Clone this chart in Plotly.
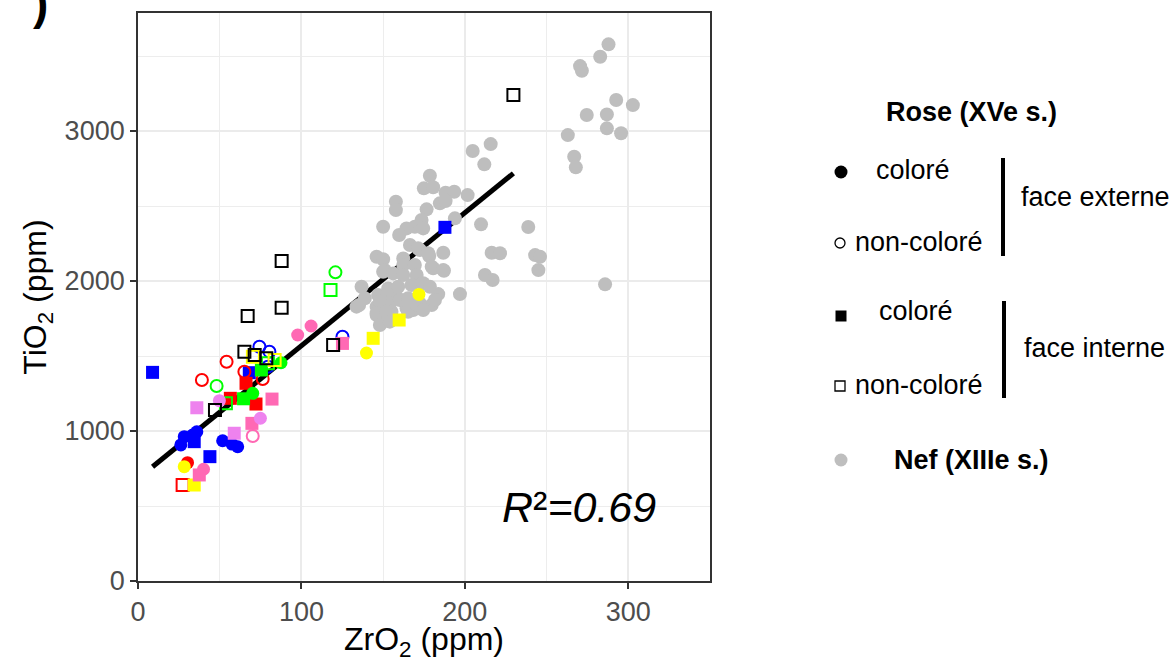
import numpy as np
import plotly.graph_objects as go

# ---- Nef (XIIIe s.) : ZrO2 / TiO2 (ppm) ----
nef_zr = [215.8, 204.8, 211.9, 178.6, 174.9, 180.6, 188.2, 193.5, 201.7, 157.8,
          157.8, 184.7, 188.2, 176.6, 150.0, 193.9, 209.9, 173.5, 169.4, 174.5,
          164.3, 159.8, 166.4, 172.5, 178.2, 186.8, 146.0, 150.0, 162.3, 216.4,
          221.5, 151.0, 180.6, 187.2, 212.3, 217.0, 136.8, 146.9, 152.1, 158.2,
          135.3, 138.8, 146.0, 146.0, 150.0, 183.7, 197.0, 179.7, 164.3, 168.4,
          172.5, 154.1, 160.2, 155.1, 171.4, 177.6, 162.3, 169.4, 179.7, 186.8,
          150.0, 156.1, 162.3, 170.5, 133.7, 153.1, 159.2, 167.4, 174.5, 178.6,
          148.0, 165.3, 181.7, 146.0, 152.1, 165.3, 170.5, 174.5, 148.0, 154.1,
          287.9, 282.8, 270.5, 271.6, 292.6, 302.8, 274.6, 286.9, 286.9, 295.6,
          263.0, 266.9, 267.9, 238.8, 243.0, 246.0, 245.0, 285.8]
nef_ti = [2913, 2867, 2778, 2702, 2618, 2625, 2589, 2595, 2573, 2529,
          2473, 2518, 2533, 2478, 2362, 2418, 2378, 2407, 2362, 2351,
          2351, 2307, 2240, 2207, 2167, 2189, 2162, 2145, 2151, 2189,
          2185, 2073, 2085, 2069, 2040, 2007, 1962, 1907, 1885, 1895,
          1840, 1885, 1829, 1773, 1729, 1913, 1913, 1840, 1818, 1807,
          1851, 1851, 1873, 1795, 2218, 2185, 2107, 2107, 2095, 2073,
          2062, 2051, 2040, 2040, 1829, 1951, 1962, 1973, 1985, 1962,
          1862, 1885, 1873, 1785, 1796, 1795, 1840, 1807, 1707, 1729,
          3578, 3495, 3433, 3402, 3207, 3173, 3107, 3111, 3018, 2985,
          2973, 2829, 2758, 2360, 2173, 2162, 2073, 1978]

# ---- Rose (XVe s.) : one entry per sample ----
rose_zr = [26.2, 28.3, 33.4, 36.0, 51.8, 57.5, 61.0, 34.4, 44.0, 8.9,
           68.1, 187.8, 74.3, 80.4, 125.1, 79.5,
           30.3, 54.2, 65.1, 76.3, 39.1, 66.1, 56.5, 72.2, 27.3,
           70.2, 87.5, 64.6, 75.5, 48.1, 120.8, 53.8, 117.8, 79.5,
           28.3, 171.9, 139.8, 34.4, 159.8, 143.9, 70.3, 83.6,
           97.7, 105.9, 40.1, 82.0, 69.7, 125.1, 37.5, 70.2,
           49.8, 74.9, 36.0, 58.9,
           67.1, 87.9, 87.9, 65.1, 47.1, 119.4, 229.7, 71.4, 78.5]
rose_ti = [907, 962, 973, 995, 935, 913, 895, 929, 829, 1391,
           1389, 2358, 1562, 1529, 1629, 1429,
           789, 1462, 1395, 1347, 1340, 1318, 1218, 1180, 640,
           1251, 1455, 1215, 1407, 1300, 2058, 1185, 1940, 1451,
           762, 1911, 1520, 640, 1740, 1618, 1495, 1473,
           1640, 1700, 745, 1213, 1051, 1584, 707, 967,
           1202, 1085, 1155, 985,
           1767, 1822, 2133, 1529, 1140, 1573, 3240, 1507, 1485]
rose_color = (["blue"] * 16 + ["red"] * 9 + ["lime"] * 9 + ["yellow"] * 8
              + ["hotpink"] * 8 + ["violet"] * 4 + ["black"] * 9)
rose_face = ["ext"] * 7 + ["int"] * 5 + ["ext"] * 4 \
    + ["ext"] * 5 + ["int"] * 4 \
    + ["ext"] * 2 + ["int"] * 2 + ["ext"] * 2 + ["int"] * 3 \
    + ["ext"] * 3 + ["int"] * 5 \
    + ["ext"] * 3 + ["int"] * 4 + ["ext"] \
    + ["ext"] * 2 + ["int"] * 2 \
    + ["int"] * 9
rose_colore = [True] * 12 + [False] * 4 \
    + [True] + [False] * 4 + [True] * 3 + [False] \
    + [True] * 4 + [False] * 5 \
    + [True] * 6 + [False] * 2 \
    + [True] * 7 + [False] \
    + [True] * 4 \
    + [False] * 9

COLOR_HEX = {"blue": "#0000FF", "red": "#FF0000", "lime": "#00FF00",
             "yellow": "#FFFF00", "hotpink": "#FF69B4", "violet": "#EE82EE",
             "black": "#000000"}
NEF_GREY = "#BEBEBE"
FONT = "Liberation Sans, Arial, Helvetica, sans-serif"

X_RANGE = [0, 350]
Y_RANGE = [0, 3787]

fig = go.Figure()

# linear fit on the Rose samples, drawn over their ZrO2 span
rz = np.array(rose_zr)
rt = np.array(rose_ti)
slope, intercept = np.polyfit(rz, rt, 1)
xf = np.array([rz.min(), rz.max()])
fig.add_trace(go.Scatter(x=xf, y=intercept + slope * xf, mode="lines",
                         line=dict(color="black", width=5), hoverinfo="skip"))

fig.add_trace(go.Scatter(x=nef_zr, y=nef_ti, mode="markers",
                         marker=dict(color=NEF_GREY, size=14, opacity=1, line=dict(width=0))))

symbols = []
for face, col in zip(rose_face, rose_colore):
    base = "circle" if face == "ext" else "square"
    symbols.append(base if col else base + "-open")
colors = [COLOR_HEX[c] for c in rose_color]
fig.add_trace(go.Scatter(
    x=rose_zr, y=rose_ti, mode="markers",
    marker=dict(symbol=symbols, color=colors, opacity=1,
                size=[13 if c else 12 for c in rose_colore],
                line=dict(color=colors, width=[0 if c else 2 for c in rose_colore]))))

fig.add_annotation(x=221.5, y=493, xref="x", yref="y", xanchor="left", yanchor="middle",
                   text="<i>R</i>²<i>=0.69</i>", showarrow=False,
                   font=dict(size=43, color="black", family=FONT))

# ---- hand-built legend on the right ----
L, R_, T, B = 138, 710, 13, 581


def px(xp, yp):
    return (xp - L) / (R_ - L), (B - yp) / (B - T)


def add_text(xp, yp, text, size=27, bold=False, anchor="left"):
    x, y = px(xp, yp)
    fig.add_annotation(x=x, y=y, xref="paper", yref="paper", xanchor=anchor,
                       yanchor="middle", showarrow=False,
                       text=f"<b>{text}</b>" if bold else text,
                       font=dict(size=size, color="black", family=FONT))


def add_marker(kind, xc, yc, d, fill, line_w=0, line_c="black"):
    x0, y0 = px(xc - d / 2, yc + d / 2)
    x1, y1 = px(xc + d / 2, yc - d / 2)
    fig.add_shape(type=kind, xref="paper", yref="paper", x0=x0, y0=y0, x1=x1, y1=y1,
                  fillcolor=fill, line=dict(color=line_c, width=line_w))


def add_bar(xc, ytop, ybot):
    x0, y0 = px(xc, ybot)
    _, y1 = px(xc, ytop)
    fig.add_shape(type="line", xref="paper", yref="paper", x0=x0, x1=x0, y0=y0, y1=y1,
                  line=dict(color="black", width=4))


add_text(971, 112, "Rose (XVe s.)", size=27, bold=True, anchor="center")
add_marker("circle", 841, 172, 13, "black")
add_text(874, 170, "coloré")
add_marker("circle", 840, 243, 10, "rgba(0,0,0,0)", 1.3)
add_text(853, 242, "non-coloré")
add_bar(1003, 158, 256)
add_text(1019, 197, "face externe")
add_marker("rect", 841, 316, 11, "black")
add_text(877, 311, "coloré")
add_marker("rect", 840, 386, 10, "rgba(0,0,0,0)", 1.3)
add_text(853, 385, "non-coloré")
add_bar(1004, 301, 398)
add_text(1022, 348, "face interne")
add_marker("circle", 841, 460, 13, NEF_GREY)
add_text(971, 460, "Nef (XIIIe s.)", size=27, bold=True, anchor="center")

# panel letter cut at the top edge
fig.add_annotation(x=px(40, 0)[0], y=px(0, 31)[1], xref="paper", yref="paper",
                   xanchor="center", yanchor="bottom", showarrow=False,
                   text="<b>)</b>", font=dict(size=46, color="black", family=FONT))

axis_common = dict(
    showline=True, mirror=True, linecolor="#333333", linewidth=1.8,
    ticks="outside", ticklen=6, tickwidth=1.6, tickcolor="#333333",
    showgrid=True, gridcolor="#EBEBEB", gridwidth=1.5, zeroline=False,
    tickfont=dict(size=27, color="#4D4D4D", family=FONT),
)
fig.update_xaxes(range=X_RANGE, tickvals=[0, 100, 200, 300],
                 minor=dict(dtick=50, tick0=0, showgrid=True, gridcolor="#EDEDED", gridwidth=1.1),
                 title=dict(text="ZrO<sub>2</sub> (ppm)", standoff=11,
                            font=dict(size=32, color="black", family=FONT)),
                 **axis_common)
fig.update_yaxes(range=Y_RANGE, tickvals=[0, 1000, 2000, 3000],
                 minor=dict(dtick=500, tick0=0, showgrid=True, gridcolor="#EDEDED", gridwidth=1.1),
                 title=dict(text="TiO<sub>2</sub> (ppm)", standoff=8,
                            font=dict(size=32, color="black", family=FONT)),
                 **axis_common)

fig.update_layout(width=1176, height=662, showlegend=False,
                  margin=dict(l=L, r=1176 - R_, t=T, b=662 - B, autoexpand=False),
                  plot_bgcolor="white", paper_bgcolor="white",
                  font=dict(family=FONT))

fig.write_html("out.html")
